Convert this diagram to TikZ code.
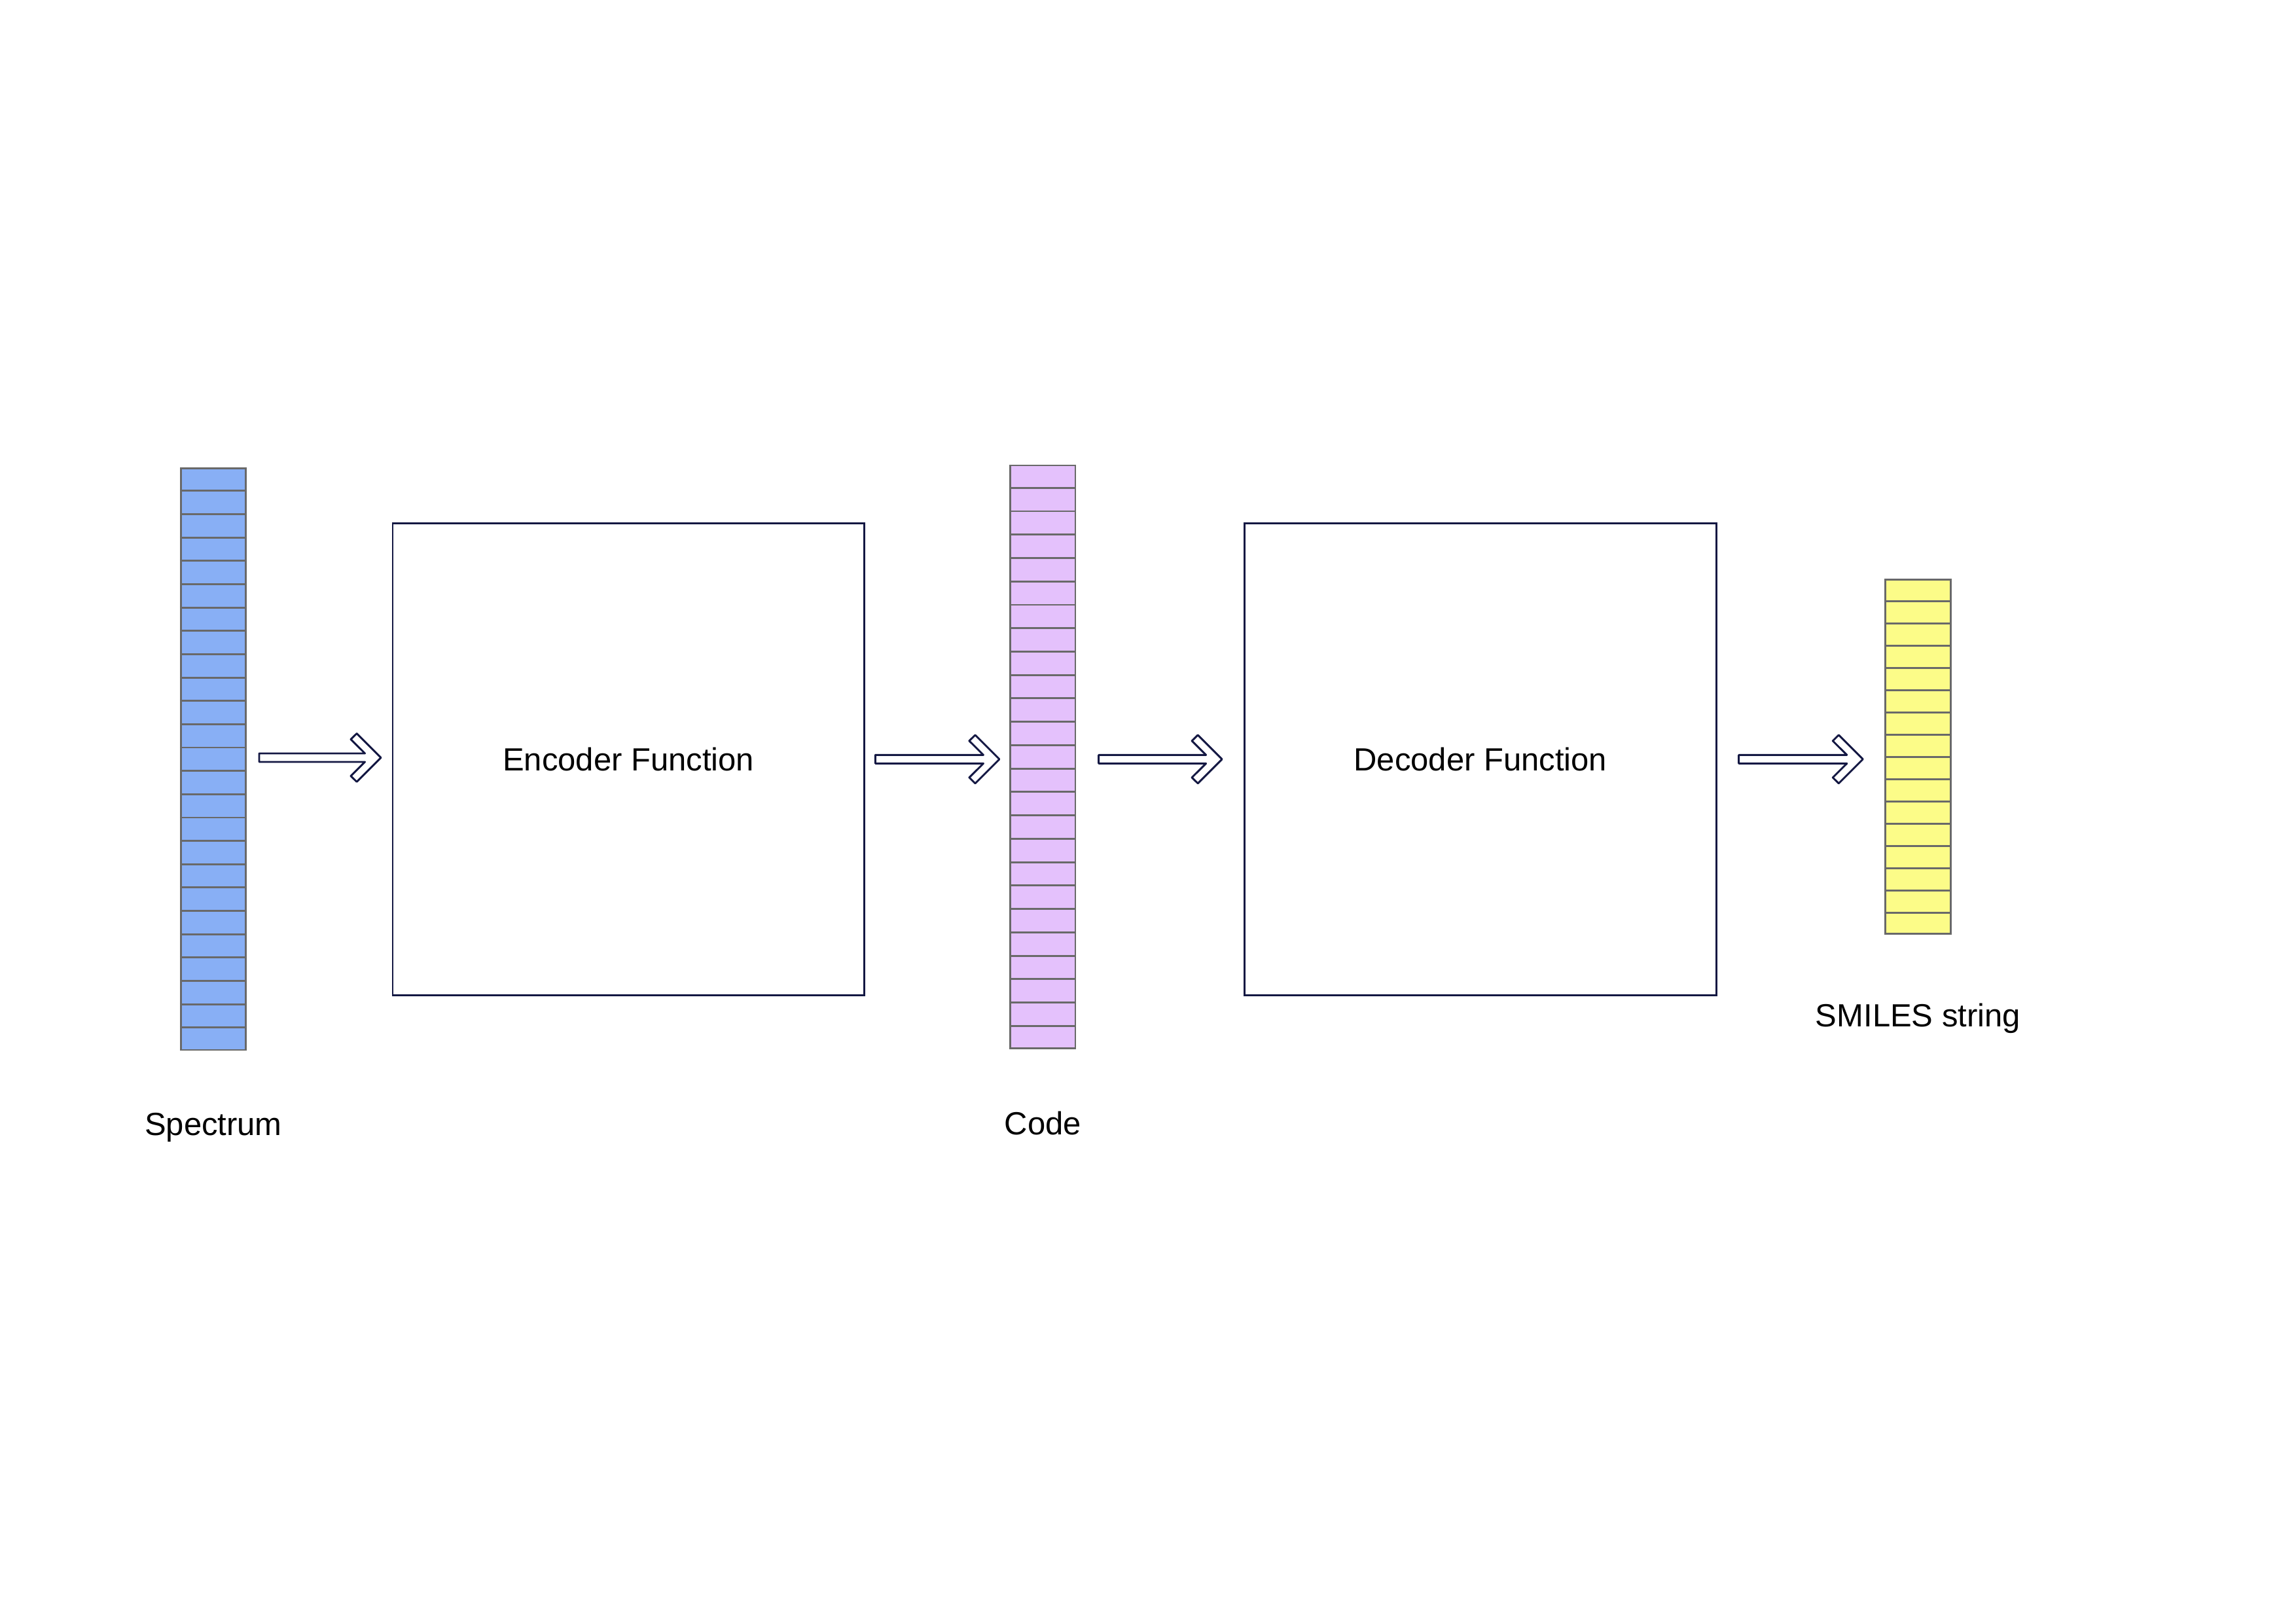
\documentclass[tikz,border=0pt]{standalone}
\usepackage{fontspec}
\setmainfont{Liberation Sans}
\usepackage{xcolor}
\usepackage{tikz}
\usetikzlibrary{positioning,calc}
\definecolor{specblue}{RGB}{136, 175, 245}
\definecolor{codelilac}{RGB}{228, 193, 252}
\definecolor{smilesyellow}{RGB}{252, 252, 136}
\definecolor{cellgray}{RGB}{105, 105, 105}
\definecolor{boxnavy}{RGB}{20, 24, 67}

\tikzset{
  strip/.style={draw=cellgray, line width=0.7pt, inner sep=0pt, minimum width=8.4mm},
  funcbox/.style={draw=boxnavy, line width=0.7pt, inner sep=0pt, minimum width=61mm, minimum height=61mm},
  fatarrow/.style={draw=boxnavy, fill=white, line width=0.7pt, line join=round},
  lbl/.style={font=\fontsize{11.8}{14}\selectfont}
}

% hollow arrow from #1 (tail) to #2 (tip)
\newcommand{\fatarrow}[2]{%
  \draw[fatarrow] ($(#1)+(0,0.55)$) -- ($(#2)+(-2.07,0.55)$) -- ($(#2)+(-3.9,2.37)$)
    -- ($(#2)+(-3.13,3.13)$) -- (#2) -- ($(#2)+(-3.13,-3.13)$) -- ($(#2)+(-3.9,-2.37)$)
    -- ($(#2)+(-2.07,-0.55)$) -- ($(#1)+(0,-0.55)$) -- cycle;}

\begin{document}
\begin{tikzpicture}[x=1mm, y=1mm]
\useasboundingbox (0,0) rectangle (297,210);

% vectors
\node[strip, fill=specblue, minimum height=75.2mm] (spec) at (27.6,111.8) {};
\node[strip, fill=codelilac, minimum height=75.4mm] (code) at (134.9,112.1) {};
\node[strip, fill=smilesyellow, minimum height=45.8mm] (smiles) at (248.1,112.1) {};
\foreach \i in {1,...,24} {
  \draw[cellgray, line width=0.7pt] ($(spec.north west)!\i/25!(spec.south west)$) -- ($(spec.north east)!\i/25!(spec.south east)$);
  \draw[cellgray, line width=0.7pt] ($(code.north west)!\i/25!(code.south west)$) -- ($(code.north east)!\i/25!(code.south east)$);
}
\foreach \i in {1,...,15}
  \draw[cellgray, line width=0.7pt] ($(smiles.north west)!\i/16!(smiles.south west)$) -- ($(smiles.north east)!\i/16!(smiles.south east)$);

% functions
\node[funcbox, lbl] (enc) at (81.3,111.8) {Encoder Function};
\node[funcbox, lbl] (dec) at (191.5,111.8) {Decoder Function};

% labels
\node[lbl, below=6.8mm of spec] (speclbl) {Spectrum};
\node[lbl, below=6.8mm of code] (codelbl) {Code};
\node[lbl, below=7.6mm of smiles] (smileslbl) {SMILES string};

% arrows
\coordinate (a1s) at ($(spec.east)+(1.6,0.2)$);
\coordinate (a1e) at ($(enc.west)+(-1.4,0.2)$);
\coordinate (a2s) at ($(enc.east)+(1.3,0)$);
\coordinate (a2e) at ($(code.west)+(-1.3,-0.3)$);
\coordinate (a3s) at ($(code.east)+(2.9,-0.3)$);
\coordinate (a3e) at ($(dec.west)+(-2.8,0)$);
\coordinate (a4s) at ($(dec.east)+(2.8,0)$);
\coordinate (a4e) at ($(smiles.west)+(-2.8,-0.3)$);
\fatarrow{a1s}{a1e}
\fatarrow{a2s}{a2e}
\fatarrow{a3s}{a3e}
\fatarrow{a4s}{a4e}
\end{tikzpicture}
\end{document}
